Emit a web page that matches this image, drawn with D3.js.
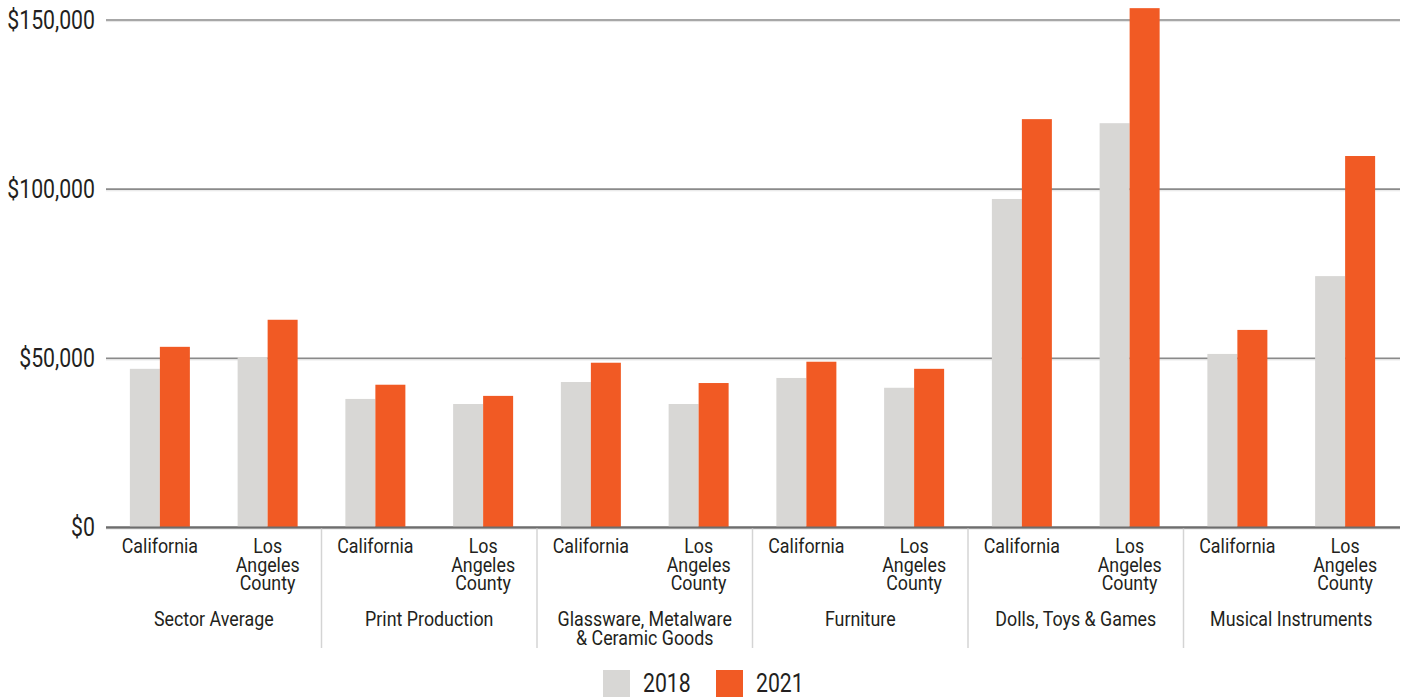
<!DOCTYPE html>
<html>
<head>
<meta charset="utf-8">
<script src="https://cdn.jsdelivr.net/npm/d3@7"></script>
<style>
  html, body { margin: 0; padding: 0; background: #fff; }
  svg { display: block; }
  text { font-family: "Roboto", "Liberation Sans", sans-serif; fill: #231f20; }
</style>
</head>
<body>
<svg id="chart" width="1406" height="700"></svg>
<script>
const groups = ["Sector Average", "Print Production", "Glassware, Metalware\n& Ceramic Goods", "Furniture", "Dolls, Toys & Games", "Musical Instruments"];
const regions = ["California", "Los\nAngeles\nCounty"];
const years = ["2018", "2021"];
const values2018 = [46900, 50400, 38000, 36500, 43000, 36500, 44200, 41300, 97100, 119500, 51300, 74300];
const values2021 = [53400, 61400, 42200, 38900, 48700, 42700, 49000, 46900, 120700, 153500, 58400, 109800];
const yTicks = [0, 50000, 100000, 150000];
const colors = { "2018": "#d8d7d5", "2021": "#f15a24" };

(function () {
const svg = d3.select("#chart");
const mLeft = 106, mRight = 1399, mTop = 20, mBottom = 527.5;
const SX = 0.85; // condensed look

const subcats = [];
groups.forEach((g, gi) => regions.forEach((r, ri) => {
  const i = gi * regions.length + ri;
  subcats.push({ key: gi + "-" + ri, group: g, gi, region: r, v: { "2018": values2018[i], "2021": values2021[i] } });
}));

const x = d3.scaleBand().domain(subcats.map(d => d.key)).range([mLeft, mRight]).padding(0);
const bw = x.bandwidth();
const barW = 30;
const xi = d3.scaleBand().domain(years).range([0, bw]).paddingInner(0)
  .paddingOuter((bw - barW * years.length) / 2 / barW);
const y = d3.scaleLinear().domain([0, 150000]).range([mBottom, mTop]);

// gridlines
svg.append("g").selectAll("line").data(yTicks).join("line")
  .attr("x1", mLeft).attr("x2", 1400)
  .attr("y1", d => y(d)).attr("y2", d => y(d))
  .attr("stroke", d => d === 0 ? "#6d6d6d" : "#8a8a8a")
  .attr("stroke-width", d => d === 0 ? 2 : 1.6);
svg.append("g").selectAll("line").data(yTicks).join("line")
  .attr("x1", mLeft).attr("x2", 1400)
  .attr("y1", d => y(d) + 1.6).attr("y2", d => y(d) + 1.6)
  .attr("stroke", "#e4e4e4").attr("stroke-width", 1);

// y axis labels
const yAxis = d3.axisLeft(y).tickValues(yTicks).tickSize(0).tickPadding(0)
  .tickFormat(d => "$" + d3.format(",")(d));
const ya = svg.append("g").attr("transform", `translate(${mLeft - 11},0)`).call(yAxis);
ya.select(".domain").remove();
ya.selectAll("text").attr("font-size", 25).attr("fill", "#231f20").attr("x", 0)
  .attr("transform", `scale(${SX},1)`)
  .style("font-family", 'Roboto, sans-serif');

// bars
const sg = svg.append("g").selectAll("g").data(subcats).join("g")
  .attr("transform", d => `translate(${x(d.key)},0)`);
sg.selectAll("rect").data(d => years.map(yr => ({ yr, v: d.v[yr] }))).join("rect")
  .attr("x", d => xi(d.yr)).attr("width", xi.bandwidth())
  .attr("y", d => y(d.v)).attr("height", d => y(0) - y(d.v))
  .attr("fill", d => colors[d.yr]);

// redraw zero line over bars
svg.append("line").attr("x1", mLeft).attr("x2", 1400).attr("y1", y(0)).attr("y2", y(0))
  .attr("stroke", "#6d6d6d").attr("stroke-width", 2);

// region labels
const lineH = 18.5;
svg.append("g").selectAll("g").data(subcats).join("g")
  .attr("transform", d => `translate(${x(d.key) + bw / 2},553) scale(${SX},1)`)
  .append("text").attr("text-anchor", "middle").attr("font-size", 21)
  .each(function(d) {
    d3.select(this).selectAll("tspan").data(d.region.split("\n")).join("tspan")
      .attr("x", 0).attr("dy", (t, i) => i === 0 ? 0 : lineH).text(t => t);
  });

// group labels
const groupW = bw * regions.length;
svg.append("g").selectAll("g").data(groups).join("g")
  .attr("transform", (g, gi) => `translate(${mLeft + groupW * gi + groupW / 2},626) scale(${SX},1)`)
  .append("text").attr("text-anchor", "middle").attr("font-size", 21)
  .each(function(g) {
    d3.select(this).selectAll("tspan").data(g.split("\n")).join("tspan")
      .attr("x", 0).attr("dy", (t, i) => i === 0 ? 0 : lineH).text(t => t);
  });

// group separators
svg.append("g").selectAll("line").data(d3.range(1, groups.length)).join("line")
  .attr("x1", i => mLeft + groupW * i).attr("x2", i => mLeft + groupW * i)
  .attr("y1", y(0) + 1).attr("y2", 648)
  .attr("stroke", "#d4d4d4").attr("stroke-width", 1.5);

// legend
const legendX = d3.scaleOrdinal().domain(years).range([603, 716]);
const lg = svg.append("g").selectAll("g").data(years).join("g")
  .attr("transform", d => `translate(${legendX(d)},670)`);
lg.append("rect").attr("width", 27).attr("height", 27).attr("fill", d => colors[d]);
lg.append("text").attr("transform", `translate(40,22) scale(${SX},1)`).attr("font-size", 25).text(d => d);
})();
</script>
</body>
</html>
